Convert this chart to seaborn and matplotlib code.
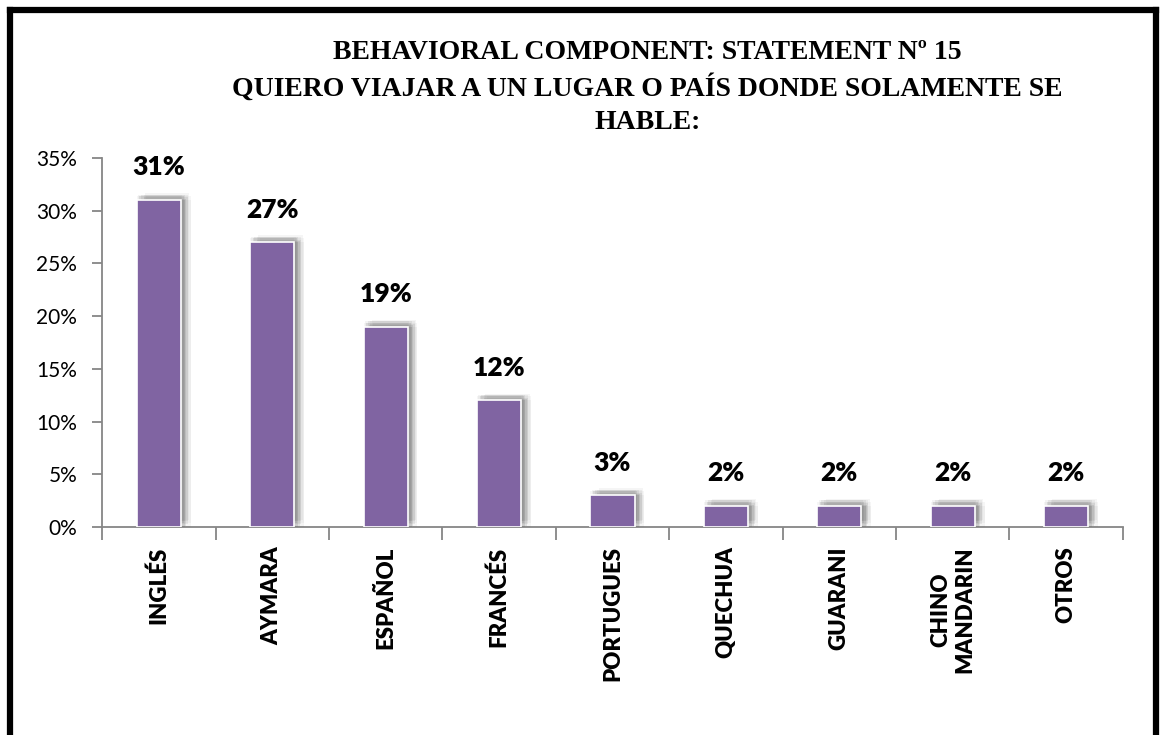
import matplotlib
matplotlib.use("Agg")
import matplotlib.pyplot as plt
import matplotlib.patheffects as pe
from matplotlib.lines import Line2D
from matplotlib.ticker import PercentFormatter, FixedLocator
import seaborn as sns
import pandas as pd

# Survey answers: languages and share of respondents
languages = ["INGLÉS", "AYMARA", "ESPAÑOL", "FRANCÉS", "PORTUGUES",
             "QUECHUA", "GUARANI", "CHINO\nMANDARIN", "OTROS"]
shares = [31, 27, 19, 12, 3, 2, 2, 2, 2]
y_ticks = [0, 5, 10, 15, 20, 25, 30, 35]

title_lines = ["BEHAVIORAL COMPONENT: STATEMENT Nº 15",
               "QUIERO VIAJAR A UN LUGAR O PAÍS DONDE SOLAMENTE SE",
               "HABLE:"]

df = pd.DataFrame({"idioma": languages, "porcentaje": shares})

sns.set_theme(style="white")
plt.rcParams["font.family"] = ["Lato", "DejaVu Sans"]

fig = plt.figure(figsize=(11.6, 7.35), dpi=100)
ax = fig.add_axes([0.088, 0.283, 0.880, 0.502])

bar_color = "#8064A2"
sns.barplot(data=df, x="idioma", y="porcentaje", color=bar_color,
            width=0.39, saturation=1, ax=ax, zorder=3)

# Soft grey shadow around each bar (several faint offsets approximate a blur)
shadow_offsets = [(7, 3, 0.05), (6, 5, 0.06), (7, 0, 0.06), (5, 4, 0.08),
                  (5, 2, 0.10), (3, 4, 0.10), (4, 1, 0.14), (2, 3, 0.14),
                  (3, 0, 0.16), (1, 4, 0.07), (0, 3, 0.06)]
shadow = [pe.SimplePatchShadow(offset=(dx, dy), shadow_rgbFace="#606060",
                               alpha=a)
          for dx, dy, a in shadow_offsets]
for bar in ax.patches:
    bar.set_edgecolor("white")
    bar.set_linewidth(1.2)
    bar.set_path_effects(shadow + [pe.Normal()])

# Value labels above bars
for bar, v in zip(ax.patches, shares):
    ax.annotate(f"{v}%", (bar.get_x() + bar.get_width() / 2, v),
                xytext=(0, 15), textcoords="offset points",
                ha="center", va="bottom", fontsize=19, fontweight=800,
                color="black")

ax.set_ylim(0, 35)
ax.set_xlim(-0.5, len(languages) - 0.5)
ax.yaxis.set_major_locator(FixedLocator(y_ticks))
ax.yaxis.set_major_formatter(PercentFormatter(decimals=0))
ax.set_xlabel("")
ax.set_ylabel("")

spine_color = "#868686"
for side in ["top", "right"]:
    ax.spines[side].set_visible(False)
for side in ["left", "bottom"]:
    ax.spines[side].set_color(spine_color)
    ax.spines[side].set_linewidth(1.3)

ax.tick_params(axis="y", which="major", left=True, length=7, width=1.3,
               color=spine_color, labelsize=15, labelcolor="black", pad=11)
ax.tick_params(axis="x", which="major", bottom=False, length=0, pad=14,
               labelsize=16, labelcolor="black", labelrotation=90)
ax.xaxis.set_minor_locator(FixedLocator([i - 0.5 for i in range(len(languages) + 1)]))
ax.tick_params(axis="x", which="minor", bottom=True, length=9, width=1.3,
               color=spine_color)
ax.set_xticks(range(len(languages)))
ax.set_xticklabels(languages)

fig.canvas.draw()
for lab in ax.get_xticklabels():
    lab.set_fontweight(800)
    lab.set_va("top")
    lab.set_ha("center")
    lab.set_multialignment("center")

# Title block
for i, line in enumerate(title_lines):
    fig.text(0.558, 0.928 - i * 0.047, line, ha="center", va="center",
             fontsize=20, fontweight="bold",
             family=["Liberation Serif", "DejaVu Serif"], color="black")

# Frame around the chart area
frame_kw = dict(color="black", linewidth=4.5, transform=fig.transFigure,
                solid_capstyle="projecting")
fig.add_artist(Line2D([0.0083, 0.0083], [-0.01, 0.9864], **frame_kw))
fig.add_artist(Line2D([0.0083, 0.9966], [0.9864, 0.9864], **frame_kw))
fig.add_artist(Line2D([0.9966, 0.9966], [-0.01, 0.9864], **frame_kw))

fig.savefig("out.png", dpi=100, facecolor="white")
